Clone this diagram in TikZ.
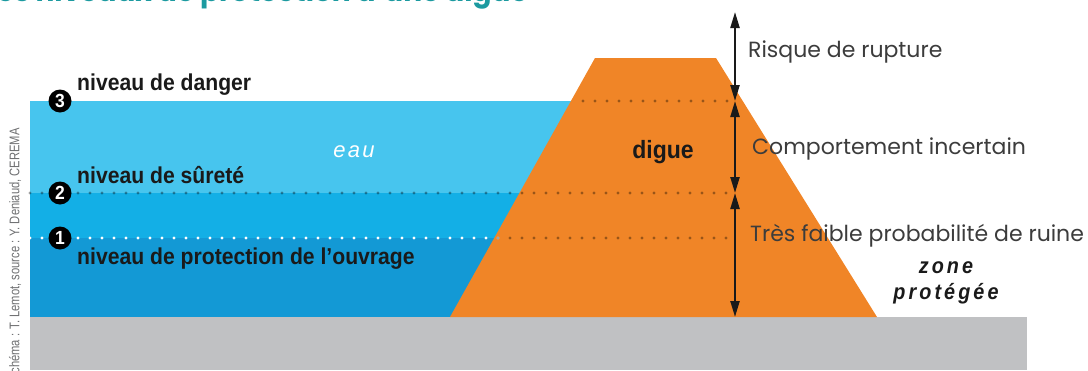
\documentclass[tikz,border=0pt]{standalone}
\usepackage{fontspec}
\setmainfont{Liberation Sans}
\newfontfamily\cond[FakeStretch=0.92]{Liberation Sans}
\newfontfamily\narrowcredit[FakeStretch=0.8]{Liberation Sans}
\newfontfamily\condsp[FakeStretch=0.9,LetterSpace=14]{Liberation Sans}
\newfontfamily\spacedf[LetterSpace=10]{Liberation Sans}
\newfontfamily\geo{Poppins}
\usetikzlibrary{arrows.meta}
\definecolor{waterA}{HTML}{47C5EE}
\definecolor{waterB}{HTML}{13AFE6}
\definecolor{waterC}{HTML}{1399D5}
\definecolor{dike}{HTML}{F08527}
\definecolor{ground}{HTML}{C0C1C3}
\definecolor{teal}{HTML}{1C9AA0}
\definecolor{credit}{HTML}{6D6E70}
\definecolor{ink}{HTML}{1A1A1A}
\tikzset{
  levellabel/.style={anchor=base west, inner sep=0pt, text=ink, font=\cond\bfseries\fontsize{23}{23}\selectfont},
  num/.style={circle, fill=black, text=white, inner sep=0pt, minimum size=23pt, font=\cond\bfseries\fontsize{19}{19}\selectfont},
  sidelabel/.style={anchor=west, inner sep=0pt, text=ink!85, font=\geo\fontsize{22}{22}\selectfont},
  dotline/.style={line width=3.4pt, dash pattern=on 0pt off 12pt, line cap=round, draw=black, draw opacity=0.36},
  whitedots/.style={line width=3.4pt, dash pattern=on 0pt off 12pt, line cap=round, draw=white},
  dim/.style={line width=2.2pt, draw=ink, {Triangle[length=16pt,width=9pt]}-{Triangle[length=16pt,width=9pt]}},
}
\begin{document}
\begin{tikzpicture}[x=1pt,y=-1pt]
\useasboundingbox (0,0) rectangle (1088,370);
% ground
\fill[ground] (30,317) rectangle (1027,370);
% water layers
\fill[waterA] (30,101) rectangle (600,193);
\fill[waterB] (30,193) rectangle (600,238);
\fill[waterC] (30,238) rectangle (600,317);
% dike
\fill[dike] (450,317) -- (595,58) -- (716,58) -- (877,317) -- cycle;
% coordinates
\coordinate (l3a) at (583,101);
\coordinate (l2a) at (30,193);
\coordinate (l1a) at (30,238);
\coordinate (l1b) at (498,238);
\coordinate (aTop) at (735,12);
\coordinate (a3) at (735,101);
\coordinate (a2) at (735,193);
\coordinate (a1) at (735,238);
\coordinate (aBase) at (735,317);
% dotted level lines
\draw[dotline] (l3a) -- (a3);
\draw[dotline] (l2a) -- (a2);
\draw[whitedots] (l1a) -- (l1b);
\draw[dotline] (l1b) -- (a1);
% numbered circles
\node[num] (n3) at (60,101) {3};
\node[num] (n2) at (60,193) {2};
\node[num] (n1) at (60,238) {1};
% level labels
\node[levellabel] (t3) at (77,90) {niveau de danger};
\node[levellabel] (t2) at (77,183) {niveau de sûreté};
\node[levellabel] (t1) at (77,264) {niveau de protection de l’ouvrage};
% area labels
\node[text=white, font=\spacedf\itshape\fontsize{22}{22}\selectfont] (eau) at (354,152) {eau};
\node[text=ink, font=\cond\bfseries\fontsize{25}{25}\selectfont] (digue) at (663,152) {digue};
\node[text=ink, align=center, font=\condsp\bfseries\itshape\fontsize{22}{26}\selectfont] (zone) at (946,283) {zone\\protégée};
% dimension arrows
\draw[dim] (a3) -- (aTop);
\draw[dim] (a3) -- (a2);
\draw[dim] (a2) -- (aBase);
% side labels
\node[sidelabel] (r3) at (748,52) {Risque de rupture};
\node[sidelabel] (r2) at (752,149) {Comportement incertain};
\node[sidelabel] (r1) at (750,236) {Très faible probabilité de ruine};
% title (cut by the top edge)
\node[anchor=base east, inner sep=0pt, text=teal, font=\geo\bfseries\fontsize{28}{28}\selectfont] (title) at (528,1.5) {Les niveaux de protection d’une digue};
% credit
\node[rotate=90, anchor=east, inner sep=0pt, text=credit, font=\narrowcredit\fontsize{14}{14}\selectfont] (credit) at (15,128) {Schéma : T. Lemot, source : Y. Deniaud, CEREMA};
\end{tikzpicture}
\end{document}
